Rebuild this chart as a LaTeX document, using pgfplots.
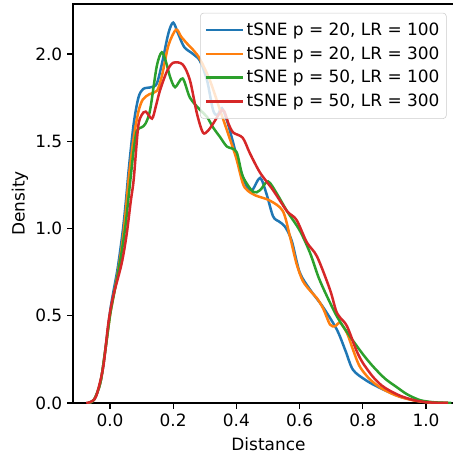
\documentclass[border=0pt]{standalone}
\usepackage{fontspec}
\setmainfont{DejaVu Sans}
\usepackage{pgfplots}
\pgfplotsset{compat=1.18}
\definecolor{cblue}{HTML}{1F77B4}
\definecolor{corange}{HTML}{FF7F0E}
\definecolor{cgreen}{HTML}{2CA02C}
\definecolor{cred}{HTML}{D62728}
\begin{document}
\begin{tikzpicture}
\begin{axis}[
  at={(0,0)}, anchor=south west,
  scale only axis, width=281.5pt, height=287.3pt,
  xmin=-0.117, xmax=1.12, ymin=0, ymax=2.287,
  xtick={0,0.2,0.4,0.6,0.8,1.0}, ytick={0,0.5,1.0,1.5,2.0},
  /pgf/number format/fixed, /pgf/number format/fixed zerofill,
  /pgf/number format/precision=1, /pgf/number format/assume math mode=true,
  tick align=outside, xtick pos=bottom, ytick pos=left,
  major tick length=4.2pt,
  tick style={black, line width=0.95pt},
  axis line style={line width=0.95pt},
  font=\fontsize{12.2}{14.6}\selectfont,
  tick label style={font=\fontsize{12.2}{14.6}\selectfont},
  xlabel={Distance}, ylabel={Density},
  every axis x label/.style={at={(axis description cs:0.5,-0.1028)}, anchor=center},
  every axis y label/.style={at={(axis description cs:-0.1355,0.5)}, rotate=90, anchor=center},
  legend cell align=left,
  legend style={at={(0.325,0.978)}, anchor=north west, draw=black!20, rounded corners=2.5pt,
    fill=white, fill opacity=0.8, text opacity=1, draw opacity=1,
    font=\fontsize{12.2}{14.6}\selectfont, row sep=2.6pt, inner xsep=3pt, inner ysep=5pt},
  legend image code/.code={\draw[#1, line width=1.8pt] (0pt,0pt) -- (26.6pt,0pt);},
  every axis plot/.append style={line width=1.8pt, smooth, tension=0.5},
]
\addplot[cblue] coordinates {
(-0.07,0) (-0.05,0.02) (-0.03,0.12) (-0.015,0.3) (0.0,0.52) (0.01,0.63) (0.025,0.78) (0.04,0.98) (0.05,1.15) (0.06,1.35) (0.075,1.6) (0.09,1.75) (0.105,1.80) (0.13,1.81) (0.148,1.83) (0.165,1.95) (0.185,2.12) (0.2,2.18) (0.215,2.12) (0.235,2.04) (0.263,2.0) (0.285,1.96) (0.307,1.85) (0.326,1.68) (0.34,1.65) (0.354,1.69) (0.37,1.62) (0.39,1.49) (0.41,1.35) (0.433,1.24) (0.45,1.22) (0.475,1.29) (0.495,1.2) (0.516,1.07) (0.535,1.04) (0.554,1.01) (0.575,0.93) (0.6,0.75) (0.633,0.65) (0.674,0.55) (0.718,0.42) (0.745,0.3) (0.769,0.19) (0.81,0.13) (0.85,0.09) (0.886,0.06) (0.92,0.035) (0.96,0.017) (1.0,0.006) (1.04,0.001) (1.07,0)
};
\addlegendentry{tSNE p = 20, LR = 100}
\addplot[corange] coordinates {
(-0.07,0) (-0.05,0.02) (-0.03,0.12) (-0.015,0.3) (0.0,0.5) (0.01,0.6) (0.025,0.75) (0.04,0.93) (0.05,1.1) (0.06,1.3) (0.075,1.52) (0.09,1.67) (0.104,1.74) (0.125,1.77) (0.149,1.79) (0.165,1.88) (0.185,2.05) (0.209,2.14) (0.225,2.1) (0.244,2.06) (0.265,2.02) (0.285,1.97) (0.316,1.85) (0.348,1.68) (0.38,1.51) (0.40,1.4) (0.42,1.26) (0.434,1.22) (0.46,1.19) (0.506,1.16) (0.547,1.10) (0.57,0.95) (0.59,0.8) (0.61,0.70) (0.635,0.64) (0.655,0.60) (0.675,0.54) (0.696,0.45) (0.712,0.44) (0.728,0.46) (0.75,0.40) (0.77,0.3) (0.79,0.21) (0.82,0.14) (0.854,0.09) (0.89,0.055) (0.918,0.035) (0.96,0.015) (1.0,0.005) (1.04,0.001) (1.07,0)
};
\addlegendentry{tSNE p = 20, LR = 300}
\addplot[cgreen] coordinates {
(-0.07,0) (-0.05,0.02) (-0.03,0.12) (-0.015,0.3) (0.0,0.5) (0.01,0.6) (0.025,0.74) (0.04,0.9) (0.05,1.03) (0.06,1.2) (0.075,1.45) (0.085,1.56) (0.1,1.58) (0.112,1.6) (0.127,1.68) (0.148,1.93) (0.164,2.01) (0.178,1.95) (0.19,1.87) (0.206,1.81) (0.23,1.86) (0.253,1.75) (0.285,1.68) (0.307,1.64) (0.326,1.58) (0.35,1.52) (0.37,1.47) (0.40,1.44) (0.42,1.30) (0.453,1.21) (0.475,1.22) (0.5,1.27) (0.528,1.2) (0.56,1.1) (0.6,0.99) (0.633,0.86) (0.66,0.72) (0.687,0.61) (0.72,0.49) (0.76,0.38) (0.8,0.28) (0.832,0.21) (0.87,0.14) (0.908,0.09) (0.94,0.05) (0.98,0.017) (1.02,0.005) (1.06,0.001) (1.08,0)
};
\addlegendentry{tSNE p = 50, LR = 100}
\addplot[cred] coordinates {
(-0.075,0) (-0.063,0.005) (-0.05,0.02) (-0.04,0.06) (-0.021,0.21) (-0.005,0.46) (0.01,0.61) (0.037,0.80) (0.053,0.97) (0.066,1.16) (0.075,1.28) (0.089,1.58) (0.1,1.65) (0.113,1.67) (0.133,1.63) (0.145,1.7) (0.158,1.79) (0.18,1.9) (0.2,1.95) (0.23,1.94) (0.253,1.85) (0.275,1.66) (0.294,1.55) (0.31,1.56) (0.326,1.6) (0.357,1.68) (0.375,1.6) (0.39,1.55) (0.42,1.52) (0.443,1.43) (0.475,1.32) (0.516,1.22) (0.56,1.1) (0.59,1.05) (0.623,0.92) (0.655,0.84) (0.696,0.65) (0.715,0.53) (0.728,0.49) (0.75,0.44) (0.78,0.30) (0.8,0.23) (0.832,0.15) (0.86,0.1) (0.886,0.07) (0.92,0.04) (0.96,0.017) (1.0,0.005) (1.04,0.001) (1.07,0)
};
\addlegendentry{tSNE p = 50, LR = 300}
\end{axis}
\pgfresetboundingbox
\path (-52.56pt,-40.32pt) rectangle (273.6pt,290.16pt);
\end{tikzpicture}
\end{document}
